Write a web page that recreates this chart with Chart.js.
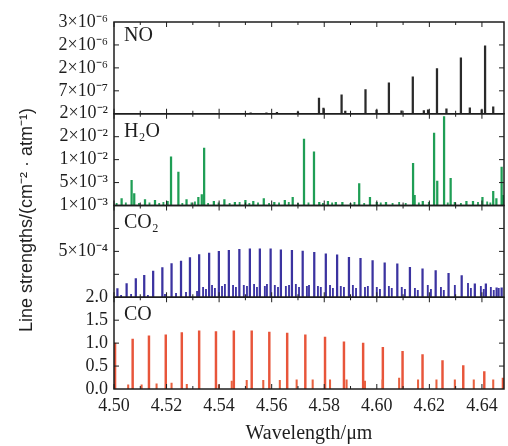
<!DOCTYPE html>
<html><head><meta charset="utf-8">
<script src="https://cdn.jsdelivr.net/npm/chart.js@4/dist/chart.umd.min.js"></script>
<style>html,body{margin:0;padding:0;background:#fff}</style>
</head><body>
<canvas id="c" width="508" height="446"></canvas>
<script>
// ---------- data ----------
const noWavelength = [4.5520,4.5580,4.5620,4.5700,4.5780,4.5797,4.5866,4.5880,4.5957,4.5999,4.6046,4.6094,4.6137,4.6179,4.6195,4.6229,4.6265,4.6320,4.6354,4.6399,4.6412,4.6443];
const noStrength   = [0.3e-7,0.3e-7,0.4e-7,0.6e-7,4.8e-7,1.7e-7,5.8e-7,0.8e-7,7.4e-7,1.1e-7,9.4e-7,0.9e-7,1.13e-6,1.0e-7,1.2e-7,1.38e-6,1.5e-7,1.71e-6,1.8e-7,1.2e-7,2.07e-6,2.1e-7];

const h2oWavelength = [4.5029,4.5067,4.5077,4.5118,4.5156,4.5204,4.5217,4.5245,4.5276,4.5321,4.5334,4.5343,4.5380,4.5420,4.5460,4.5500,4.5530,4.5570,4.5610,4.5650,4.5680,4.5723,4.5761,4.5781,4.5814,4.5844,4.5869,4.5933,4.5974,4.6000,4.6035,4.6138,4.6144,4.6175,4.6218,4.6230,4.6256,4.6281,4.6297,4.6341,4.6366,4.6402,4.6443,4.6455,4.6475,4.6481];
const h2oStrength   = [1.5e-3,5.5e-3,2.6e-3,1.3e-3,1.1e-3,0.9e-3,1.06e-2,7.3e-3,1.3e-3,1.8e-3,2.4e-3,1.25e-2,0.9e-3,1.3e-3,0.7e-3,1.1e-3,0.9e-3,1.5e-3,0.7e-3,1.1e-3,1.8e-3,1.45e-2,1.17e-2,0.7e-3,0.9e-3,0.7e-3,0.7e-3,4.8e-3,1.8e-3,0.7e-3,0.7e-3,9.2e-3,2.2e-3,0.9e-3,1.58e-2,5.3e-3,1.94e-2,5.9e-3,0.7e-3,0.9e-3,0.9e-3,1.8e-3,3.1e-3,1.5e-3,8.4e-3,2.2e-3];
const h2oWeakWavelength = [4.5010,4.5045,4.5095,4.5135,4.5172,4.5188,4.5260,4.5295,4.5308,4.5358,4.5398,4.5440,4.5478,4.5515,4.5548,4.5590,4.5628,4.5665,4.5700,4.5740,4.5795,4.5830,4.5900,4.5915,4.5952,4.6015,4.6060,4.6085,4.6110,4.6160,4.6198,4.6270,4.6320,4.6385,4.6420,4.6432];
const h2oWeakStrength   = [0.5e-3,0.6e-3,0.5e-3,0.6e-3,0.5e-3,0.7e-3,0.5e-3,0.6e-3,0.8e-3,0.5e-3,0.6e-3,0.5e-3,0.7e-3,0.5e-3,0.6e-3,0.5e-3,0.6e-3,0.7e-3,0.5e-3,0.6e-3,0.5e-3,0.6e-3,0.5e-3,0.7e-3,0.5e-3,0.6e-3,0.5e-3,0.7e-3,0.5e-3,0.6e-3,0.7e-3,0.6e-3,0.5e-3,0.7e-3,0.8e-3,0.6e-3];

const co2Wavelength = [4.5013,4.5048,4.5083,4.5115,4.5149,4.5184,4.5219,4.5255,4.5289,4.5324,4.5362,4.5399,4.5437,4.5477,4.5517,4.5555,4.5596,4.5635,4.5677,4.5718,4.5762,4.5806,4.5849,4.5894,4.5938,4.5984,4.6030,4.6078,4.6126,4.6174,4.6224,4.6273,4.6323,4.6373,4.6415,4.6456,4.6475];
const co2Strength   = [0.95e-4,1.49e-4,2.03e-4,2.39e-4,2.86e-4,3.23e-4,3.66e-4,3.95e-4,4.32e-4,4.64e-4,4.82e-4,5.0e-4,5.11e-4,5.22e-4,5.29e-4,5.29e-4,5.29e-4,5.18e-4,5.11e-4,5.04e-4,4.89e-4,4.72e-4,4.61e-4,4.35e-4,4.24e-4,3.99e-4,3.74e-4,3.63e-4,3.26e-4,3.09e-4,2.90e-4,2.61e-4,2.36e-4,1.46e-4,1.46e-4,1.02e-4,1.02e-4];
const co2WeakWavelength = [4.5027,4.5065,4.5129,4.5194,4.5236,4.5274,4.5316,4.5339,4.5350,4.5373,4.5384,4.5411,4.5422,4.5453,4.5464,4.5494,4.5506,4.5533,4.5544,4.5574,4.5582,4.5612,4.5624,4.5654,4.5666,4.5692,4.5704,4.5734,4.5742,4.5776,4.5787,4.5822,4.5833,4.5863,4.5875,4.5909,4.5921,4.5955,4.5966,4.6000,4.6012,4.6046,4.6057,4.6095,4.6107,4.6145,4.6156,4.6194,4.6206,4.6244,4.6255,4.6297,4.6347,4.6358,4.6396,4.6407,4.6434,4.6445,4.6464];
const co2WeakStrength   = [0.22e-4,0.33e-4,0.22e-4,0.33e-4,0.43e-4,0.54e-4,0.65e-4,1.09e-4,0.87e-4,1.30e-4,0.98e-4,1.20e-4,1.41e-4,1.30e-4,1.09e-4,1.30e-4,1.20e-4,1.41e-4,1.09e-4,1.20e-4,1.41e-4,1.30e-4,1.09e-4,1.20e-4,1.30e-4,1.41e-4,1.09e-4,1.20e-4,1.30e-4,1.20e-4,1.09e-4,1.30e-4,0.98e-4,1.20e-4,1.09e-4,1.30e-4,0.98e-4,1.09e-4,1.20e-4,1.09e-4,0.87e-4,1.20e-4,0.98e-4,1.09e-4,0.87e-4,0.98e-4,0.76e-4,1.30e-4,0.87e-4,1.09e-4,0.76e-4,1.30e-4,1.52e-4,0.98e-4,1.20e-4,0.87e-4,1.09e-4,0.76e-4,0.98e-4];

const coWavelength = [4.5004,4.5071,4.5133,4.5197,4.5258,4.5324,4.5388,4.5456,4.5524,4.5591,4.5659,4.5728,4.5803,4.5875,4.5948,4.6023,4.6098,4.6174,4.6250,4.6329,4.6409,4.6480];
const coStrength   = [1.00,1.09,1.16,1.18,1.23,1.27,1.25,1.27,1.27,1.24,1.22,1.18,1.13,1.03,1.00,0.91,0.82,0.75,0.62,0.51,0.38,0.24];
const coWeakWavelength = [4.5054,4.5105,4.5162,4.5219,4.5277,4.5399,4.5448,4.5505,4.5568,4.5631,4.5695,4.5756,4.5822,4.5885,4.5955,4.6022,4.6085,4.6157,4.6227,4.6297,4.6369,4.6443];
const coWeakStrength   = [0.09,0.09,0.11,0.13,0.10,0.09,0.17,0.19,0.19,0.19,0.20,0.20,0.20,0.20,0.17,0.20,0.24,0.20,0.20,0.20,0.20,0.20];

// tick labels (bottom -> top for each panel)
const noTickLabels  = ['', '7×10⁻⁷', '2×10⁻⁶', '2×10⁻⁶', '3×10⁻⁶'];
const h2oTickLabels = ['1×10⁻³', '5×10⁻³', '1×10⁻²', '2×10⁻²', '2×10⁻²'];
const co2TickLabels = ['', '', '5×10⁻⁴', '', ''];
const coTickLabels  = ['0.0', '0.5', '1.0', '1.5', '2.0'];
const xTickLabels   = ['4.50','4.52','4.54','4.56','4.58','4.60','4.62','4.64'];
const panelNames    = ['NO', 'H₂O', 'CO₂', 'CO'];

// ---------- chart ----------
const zip = (xs, ys) => xs.map((x, i) => ({x, y: ys[i]}));
const serif = '"Liberation Serif", "Times New Roman", serif';
const ink = '#1e1e1e';

function yAxis(max, labels) {
  return {
    type: 'linear', position: 'left', stack: 'panels', stackWeight: 1,
    min: 0, max: max,
    grid: {display: false, drawTicks: false},
    border: {display: false},
    ticks: {count: 5, autoSkip: false, padding: 6, color: ink,
            font: {family: serif, size: 18},
            callback: (v, i) => labels[i]},
    afterFit: s => { s.width = 114; }
  };
}

function bars(xs, ys, axis, color, w) {
  return {type: 'bar', data: zip(xs, ys), yAxisID: axis, backgroundColor: color,
          borderWidth: 0, barThickness: w, grouped: false};
}

const panelAxes = ['yNO', 'yH2O', 'yCO2', 'yCO'];
const nameOffsets = [19, 23, 22, 23];

const framePlugin = {
  id: 'frame',
  afterDatasetsDraw(chart) {
    const {ctx, chartArea: a, scales} = chart;
    const xs = scales.x;
    ctx.save();
    ctx.strokeStyle = ink; ctx.lineWidth = 1.5;
    panelAxes.forEach((id, k) => {
      const s = scales[id];
      ctx.strokeRect(a.left, s.top, a.right - a.left, s.bottom - s.top);
      ctx.lineWidth = 1;
      ctx.beginPath();
      s.ticks.forEach(t => {
        const y = s.getPixelForValue(t.value);
        if (y > s.top + 1 && y < s.bottom - 1) {
          ctx.moveTo(a.left, y); ctx.lineTo(a.left + 5, y);
          ctx.moveTo(a.right, y); ctx.lineTo(a.right - 5, y);
        }
      });
      xs.ticks.forEach(t => {
        const x = xs.getPixelForValue(t.value);
        const len = xTickLabels.includes(t.value.toFixed(2)) ? 5 : 3;
        ctx.moveTo(x, s.top); ctx.lineTo(x, s.top + len);
        ctx.moveTo(x, s.bottom); ctx.lineTo(x, s.bottom - len);
      });
      ctx.stroke();
      ctx.lineWidth = 1.5;
      ctx.fillStyle = ink;
      ctx.font = '20px ' + serif;
      ctx.textBaseline = 'alphabetic';
      ctx.textAlign = 'left';
      ctx.fillText(panelNames[k], a.left + 10, s.top + nameOffsets[k]);
    });
    // shared y title
    ctx.translate(27, 220);
    ctx.rotate(-Math.PI / 2);
    ctx.textAlign = 'center';
    ctx.textBaseline = 'middle';
    ctx.font = '18px "Liberation Sans", Arial, sans-serif';
    ctx.fillText('Line strengths/(cm⁻² · atm⁻¹)', 0, 0);
    ctx.restore();
  }
};

new Chart(document.getElementById('c'), {
  type: 'bar',
  data: {datasets: [
    bars(coWeakWavelength, coWeakStrength, 'yCO', '#e8603f', 1.4),
    bars(coWavelength, coStrength, 'yCO', '#e8553a', 1.8),
    bars(co2WeakWavelength, co2WeakStrength, 'yCO2', '#3d35a3', 1.2),
    bars(co2Wavelength, co2Strength, 'yCO2', '#3b33a0', 1.6),
    bars(h2oWeakWavelength, h2oWeakStrength, 'yH2O', '#2aa35e', 1.2),
    bars(h2oWavelength, h2oStrength, 'yH2O', '#1f9e55', 1.6),
    bars(noWavelength, noStrength, 'yNO', '#2a2a2a', 1.6)
  ]},
  options: {
    responsive: false, animation: false, devicePixelRatio: 1,
    layout: {padding: {left: 0, right: 4, top: 22, bottom: 0}},
    plugins: {legend: {display: false}, tooltip: {enabled: false}},
    scales: {
      x: {type: 'linear', position: 'bottom', min: 4.50, max: 4.6484, offset: false,
          grid: {display: false, drawTicks: false}, border: {display: false},
          ticks: {stepSize: 0.01, includeBounds: false, autoSkip: false, maxRotation: 0,
                  padding: 6, color: ink, font: {family: serif, size: 18},
                  callback: v => { const s = v.toFixed(2); return xTickLabels.includes(s) ? s : ''; }},
          title: {display: true, text: 'Wavelength/μm', color: ink,
                  font: {family: serif, size: 20}, padding: {top: 3, bottom: 0}},
          afterFit: s => { s.height = 57; }},
      yCO: yAxis(2.0, coTickLabels),
      yCO2: yAxis(1e-3, co2TickLabels),
      yH2O: yAxis(0.02, h2oTickLabels),
      yNO: yAxis(2.8e-6, noTickLabels)
    }
  },
  plugins: [framePlugin]
});
</script>
</body></html>
